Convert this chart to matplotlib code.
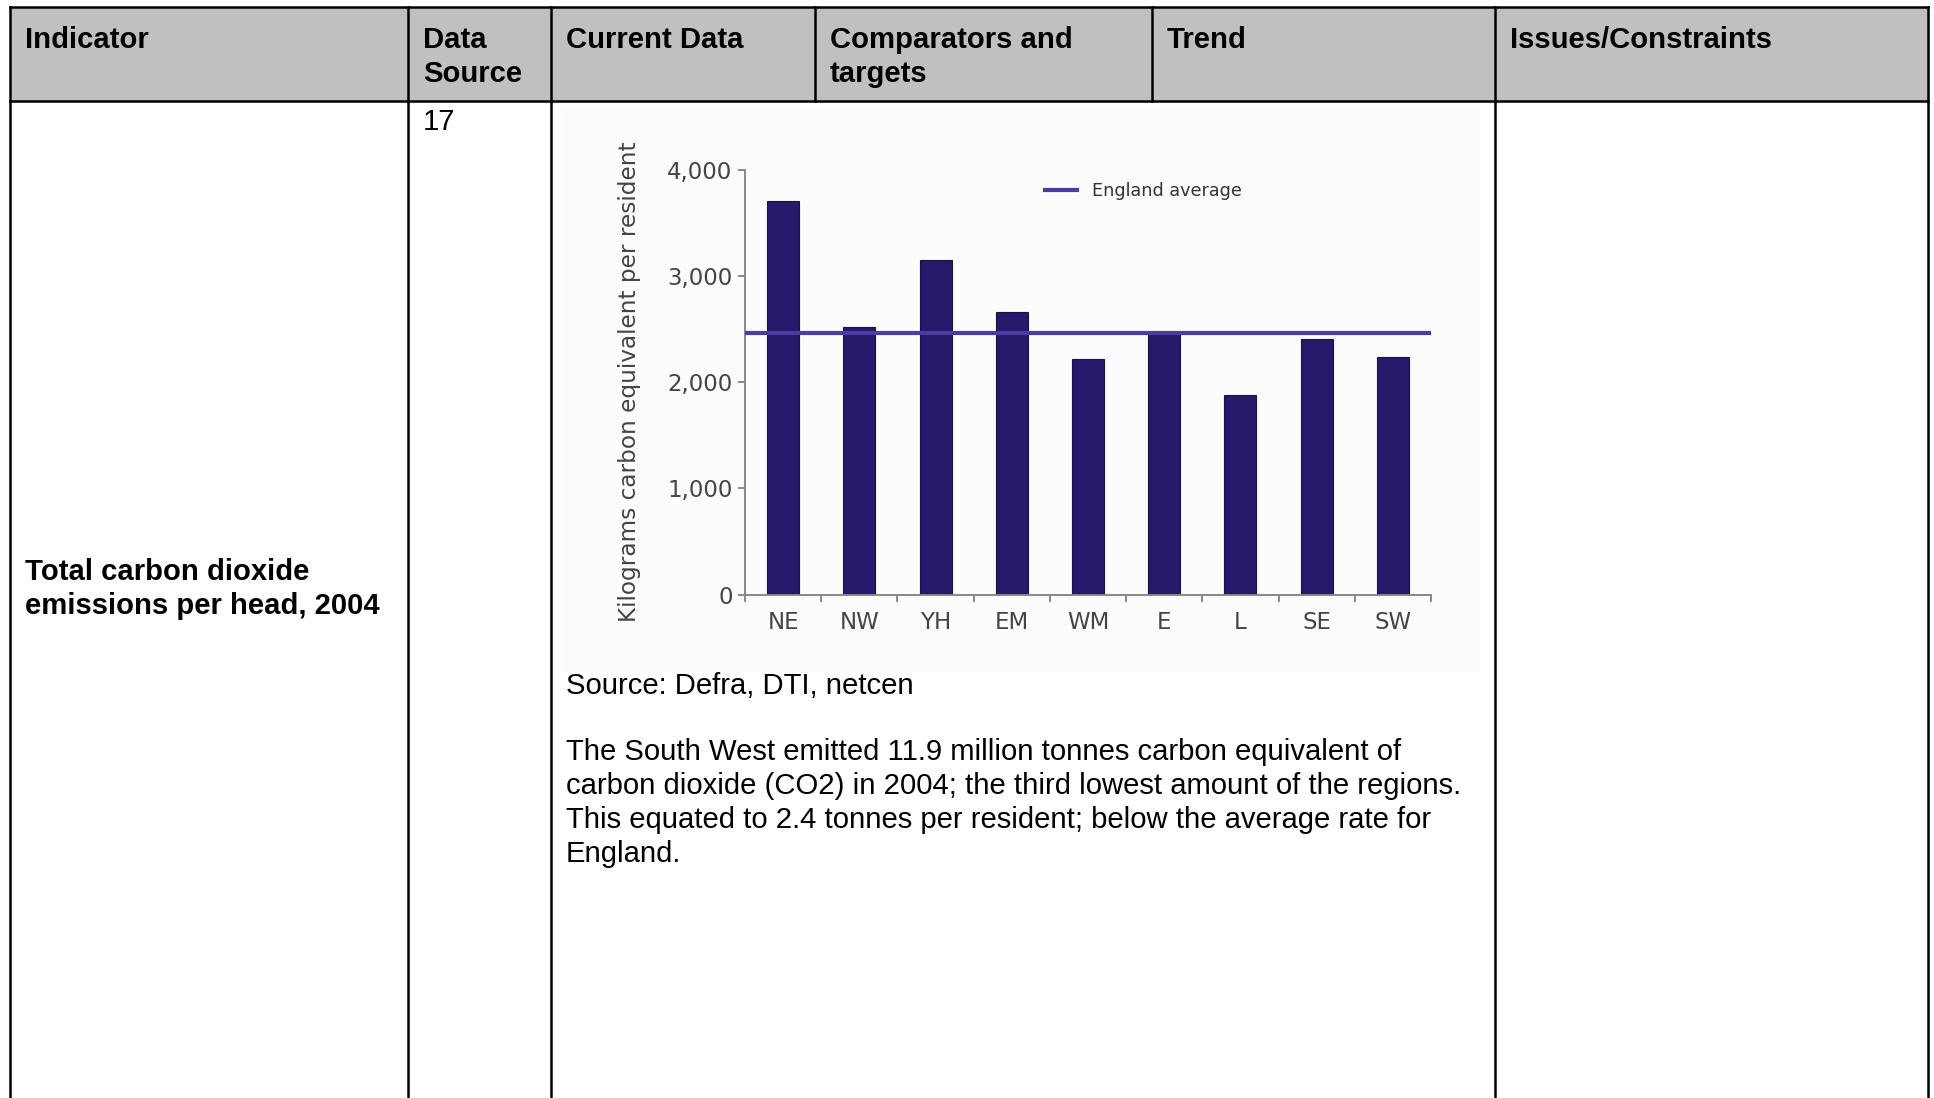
import matplotlib
matplotlib.use("Agg")
import matplotlib.pyplot as plt
from matplotlib.patches import Rectangle

# regional CO2 emissions per resident, 2004 (kg carbon equivalent)
regions = ["NE", "NW", "YH", "EM", "WM", "E", "L", "SE", "SW"]
kg_per_resident = [3710, 2520, 3150, 2660, 2215, 2475, 1880, 2410, 2240]
england_average = 2460
yticks = [0, 1000, 2000, 3000, 4000]

header = ["Indicator", "Data\nSource", "Current Data", "Comparators and\ntargets", "Trend", "Issues/Constraints"]
indicator = ["Total carbon dioxide", "emissions per head, 2004"]
source_ref = "17"
source_note = "Source: Defra, DTI, netcen"
paragraph = [
    "The South West emitted 11.9 million tonnes carbon equivalent of",
    "carbon dioxide (CO2) in 2004; the third lowest amount of the regions.",
    "This equated to 2.4 tonnes per resident; below the average rate for",
    "England.",
]

W, H = 1934, 1098
fig = plt.figure(figsize=(W / 100, H / 100), dpi=100)
fig.patch.set_facecolor("white")

# table drawn in pixel coordinates
tab = fig.add_axes([0, 0, 1, 1])
tab.set_xlim(0, W)
tab.set_ylim(H, 0)
tab.axis("off")

left, right, top, head_bot = 10, 1928, 7, 101
cols = [10, 408, 551, 815, 1152, 1495, 1928]
lw = 1.8

tab.add_patch(Rectangle((left, top), right - left, head_bot - top, facecolor="#c0c0c0", edgecolor="none"))
tab.add_patch(Rectangle((561, 108), 920, 564, facecolor="#fcfcfc", edgecolor="none"))
tab.plot([left, right], [top, top], color="black", lw=lw)
tab.plot([left, right], [head_bot, head_bot], color="black", lw=lw)
for x in [10, 408, 551, 1495, 1928]:
    tab.plot([x, x], [top, H + 5], color="black", lw=lw)
for x in [815, 1152]:
    tab.plot([x, x], [top, head_bot], color="black", lw=lw)

font = "Liberation Sans"
fs = 21.1
for i, h in enumerate(header):
    for j, line in enumerate(h.split("\n")):
        tab.text(cols[i] + 15, 48.5 + j * 34, line, fontsize=fs, fontweight="bold",
                 family=font, va="baseline", ha="left")

tab.text(423, 130, source_ref, fontsize=fs, family=font, va="baseline")
for j, line in enumerate(indicator):
    tab.text(25, 580.5 + j * 34, line, fontsize=fs, fontweight="bold", family=font, va="baseline")
tab.text(566, 694.5, source_note, fontsize=fs, family=font, va="baseline")
for j, line in enumerate(paragraph):
    tab.text(566, 759.5 + j * 34, line, fontsize=fs, family=font, va="baseline")

# bar chart
ax = fig.add_axes([745 / W, 1 - 594.5 / H, 686 / W, 424.5 / H])
ax.set_facecolor("none")
x = range(len(regions))
ax.bar(x, kg_per_resident, width=0.42, color="#26196b", edgecolor="#1a1340", linewidth=0.8, zorder=2)
ax.axhline(england_average, color="#4a3fa0", lw=3, label="England average", zorder=3)

ax.set_xlim(-0.5, len(regions) - 0.5)
ax.set_ylim(0, 4000)
ax.set_yticks(yticks)
ax.set_yticklabels([f"{v:,}" for v in yticks])
ax.set_xticks([i - 0.5 for i in range(len(regions) + 1)])
ax.set_xticklabels([])
ax.set_xticks(list(x), minor=True)
ax.set_xticklabels(regions, minor=True)
ax.tick_params(axis="x", which="minor", length=0, pad=12, labelsize=16.5, labelcolor="#444444")
ax.tick_params(axis="x", which="major", length=5, width=1.4, color="#888888")
ax.tick_params(axis="y", length=5, width=1.4, color="#888888", labelsize=16.5, labelcolor="#444444", pad=4)
for s in ["top", "right"]:
    ax.spines[s].set_visible(False)
for s in ["left", "bottom"]:
    ax.spines[s].set_color("#888888")
    ax.spines[s].set_linewidth(1.4)

ax.set_ylabel("Kilograms carbon equivalent per resident", fontsize=16.7, color="#444444")
ax.yaxis.set_label_coords((641 - 745) / 686, (594.5 - 382) / 424.5)

ax.legend(loc="center left", bbox_to_anchor=((1036 - 745) / 686, (594.5 - 191) / 424.5),
          frameon=False, borderpad=0, handlelength=1.8, handletextpad=0.9,
          prop={"size": 12.7}, labelcolor="#333333")

fig.savefig("out.png", dpi=100)
